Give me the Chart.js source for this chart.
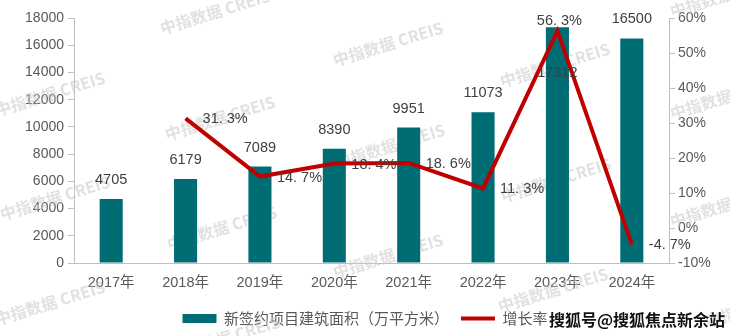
<!DOCTYPE html>
<html><head><meta charset="utf-8">
<script src="https://cdn.jsdelivr.net/npm/chart.js@4/dist/chart.umd.min.js"></script>
<style>html,body{margin:0;padding:0;background:#fff;}</style>
</head><body>
<canvas id="c" width="730" height="336"></canvas>
<script>
const years = ['2017年','2018年','2019年','2020年','2021年','2022年','2023年','2024年'];
const area = [4705, 6179, 7089, 8390, 9951, 11073, 17312, 16500];
const growth = [null, 31.3, 14.7, 18.4, 18.6, 11.3, 56.3, -4.7];
const seriesNames = ['新签约项目建筑面积（万平方米）', '增长率'];
const watermarkText = '中指数据 CREIS';
const sohuText = '搜狐号@搜狐焦点新余站';

const FONT = "'Liberation Sans', 'Noto Sans CJK SC', sans-serif";
const CJK = "'Noto Sans CJK SC', sans-serif";
const TEAL = '#006D75';
const RED = '#C00000';
const TICK = '#595959';
const LABEL = '#404040';
const AXIS = '#BFBFBF';

function fmtPct(v){ return v.toFixed(1).replace('.', '. ') + '%'; }

const watermarkPlugin = {
  id: 'wm',
  beforeDatasetsDraw(chart){
    const ctx = chart.ctx;
    const spots = [[215,12],[50,94],[220,118],[55,198],[222,228],[225,338],[50,303],[388,44],[390,146],[388,256],[555,65],[556,180],[553,290],[725,-5],[725,97],[725,205],[760,305]];
    ctx.save();
    ctx.font = 'bold 16px ' + CJK;
    ctx.fillStyle = 'rgba(200,200,200,0.55)';
    ctx.textAlign = 'center';
    ctx.textBaseline = 'middle';
    spots.forEach(([x,y]) => {
      ctx.save(); ctx.translate(x,y); ctx.rotate(-0.3); ctx.fillText(watermarkText,0,0); ctx.restore();
    });
    ctx.restore();
  }
};

const labelPlugin = {
  id: 'valueLabels',
  afterDatasetsDraw(chart){
    const ctx = chart.ctx;
    ctx.save();
    ctx.font = '14.5px ' + FONT;
    ctx.fillStyle = LABEL;
    ctx.textBaseline = 'middle';
    const bars = chart.getDatasetMeta(0).data;
    ctx.textAlign = 'center';
    bars.forEach((el,i) => {
      const y = (i === 6) ? el.y + 46 : el.y - 19;
      ctx.fillText(String(area[i]), el.x, y);
    });
    const pts = chart.getDatasetMeta(1).data;
    pts.forEach((el,i) => {
      if (growth[i] === null) return;
      if (i === 6) { ctx.textAlign = 'center'; ctx.fillText(fmtPct(growth[i]), el.x + 2, el.y - 10); }
      else { ctx.textAlign = 'left'; ctx.fillText(fmtPct(growth[i]), el.x + 17, el.y + 1); }
    });
    ctx.restore();
  },
  afterDraw(chart){
    const ctx = chart.ctx;
    ctx.save();
    ctx.font = 'bold 16px ' + CJK;
    ctx.fillStyle = '#111';
    ctx.textAlign = 'left';
    ctx.textBaseline = 'middle';
    ctx.fillText(sohuText, 549, 320);
    ctx.restore();
  }
};

new Chart(document.getElementById('c'), {
  data: {
    labels: years,
    datasets: [
      { type: 'bar', label: seriesNames[0], data: area, backgroundColor: TEAL, yAxisID: 'y', order: 1,
        barPercentage: 0.31, categoryPercentage: 1.0 },
      { type: 'line', label: seriesNames[1], data: growth, borderColor: RED, backgroundColor: RED, borderWidth: 4,
        pointRadius: 0, yAxisID: 'y1', order: 0, tension: 0 }
    ]
  },
  options: {
    responsive: false,
    devicePixelRatio: 1,
    animation: false,
    layout: { padding: { left: 0, right: 0, top: 18, bottom: 0 } },
    plugins: {
      tooltip: { enabled: false },
      legend: {
        position: 'bottom',
        labels: {
          color: TICK, font: { size: 15, family: CJK }, usePointStyle: true, pointStyleWidth: 34, boxHeight: 9, padding: 12,
          generateLabels(chart){
            return [
              { text: seriesNames[0], fillStyle: TEAL, strokeStyle: TEAL, lineWidth: 0, pointStyle: 'rect', datasetIndex: 0, hidden: false, fontColor: TICK },
              { text: seriesNames[1], fillStyle: RED, strokeStyle: RED, lineWidth: 4, pointStyle: 'line', datasetIndex: 1, hidden: false, fontColor: TICK }
            ];
          }
        }
      }
    },
    scales: {
      x: {
        grid: { display: false },
        border: { display: true, color: AXIS },
        ticks: { color: TICK, font: { size: 14.5, family: FONT }, padding: 3 },
        afterFit(s){ s.height = 36; }
      },
      y: {
        position: 'left', min: 0, max: 18000,
        ticks: { stepSize: 2000, color: TICK, font: { size: 14, family: FONT }, padding: 4, callback: v => String(v) },
        grid: { drawOnChartArea: false, tickLength: 6, color: AXIS },
        border: { color: AXIS },
        afterFit(s){ s.width = 74; }
      },
      y1: {
        position: 'right', min: -10, max: 60,
        ticks: { stepSize: 10, color: TICK, font: { size: 14, family: FONT }, padding: 3, callback: v => v + '%' },
        grid: { drawOnChartArea: false, tickLength: 6, color: AXIS },
        border: { color: AXIS },
        afterFit(s){ s.width = 61; }
      }
    }
  },
  plugins: [watermarkPlugin, labelPlugin]
});
</script>
</body></html>
